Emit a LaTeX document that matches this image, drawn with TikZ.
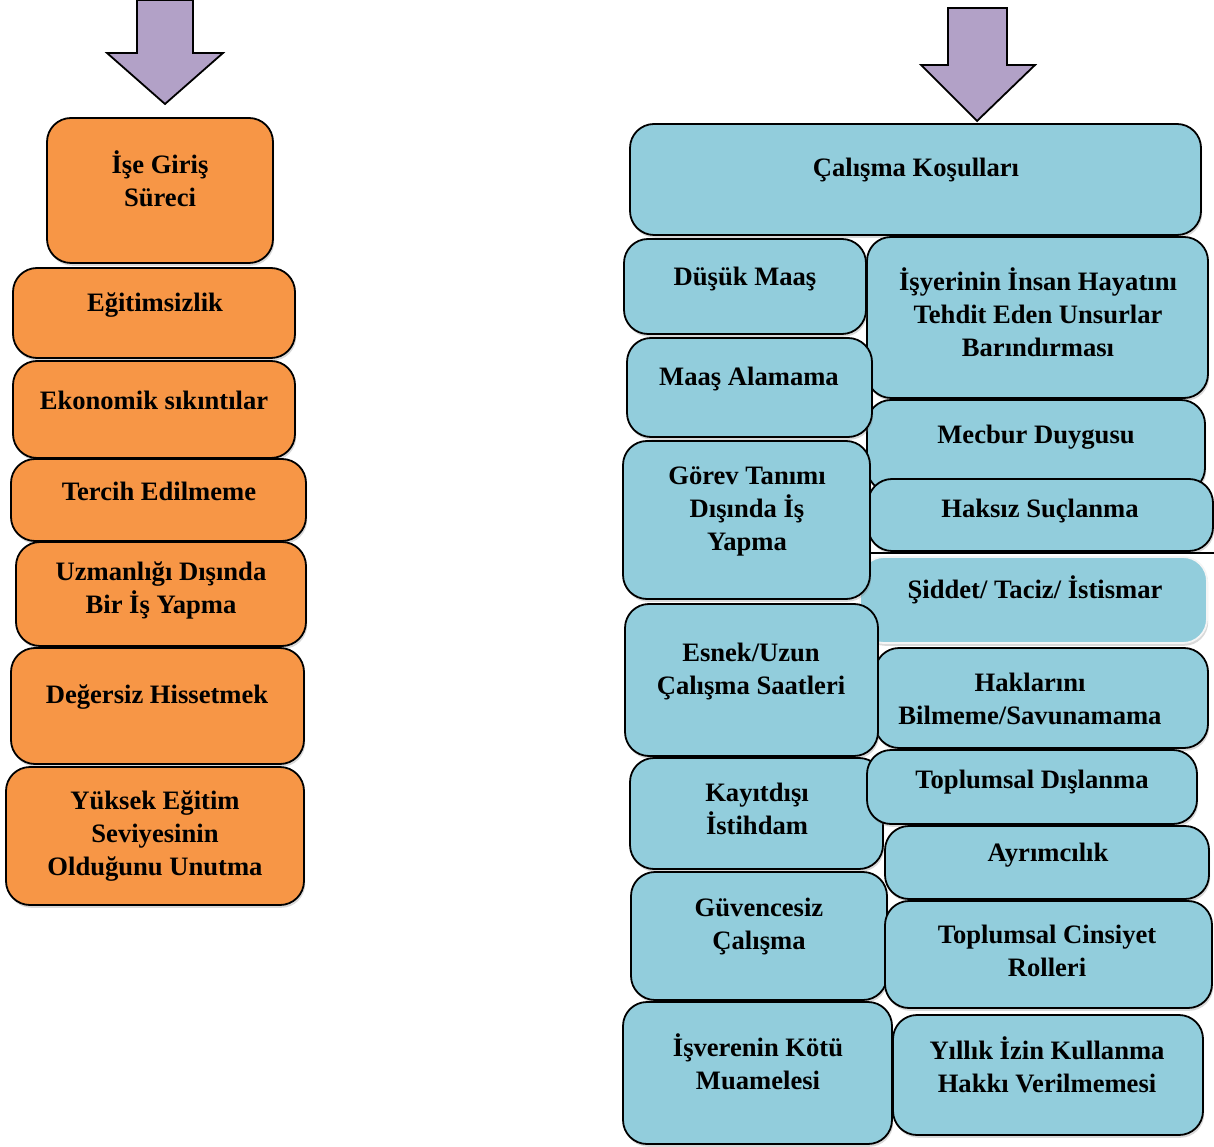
\documentclass[tikz,border=0pt]{standalone}
\usepackage{fontspec}
\setmainfont{Liberation Serif}
\usetikzlibrary{fit,shadows}
\definecolor{org}{HTML}{F79646}
\definecolor{aqua}{HTML}{92CDDC}
\definecolor{lilac}{HTML}{B2A1C7}
\tikzset{
 box/.style={draw=black, line width=0.9bp, rounded corners=12bp, inner sep=0pt,
   drop shadow={shadow xshift=0.6bp, shadow yshift=-1.4bp, opacity=0.3}},
 obox/.style={box, fill=org},
 bbox/.style={box, fill=aqua},
 pbox/.style={box, fill=aqua, draw=white!92!gray},
 txt/.style={font=\bfseries\fontsize{13.3bp}{16.5bp}\selectfont, align=center, inner sep=0pt},
 bigarrow/.style={fill=lilac, draw=black, line width=0.9bp, line join=miter}
}
\newcommand\bx[6]{\node[#1, fit={(#3,#4)(#5,#6)}] (#2) {};}
\begin{document}
\begin{tikzpicture}[x=0.5bp,y=-0.5bp]
\useasboundingbox (0,0) rectangle (1214,1147);
% arrows
\draw[bigarrow] (137,0) -- (137,53) -- (107,53) -- (165,104) -- (223,53) -- (193,53) -- (193,0) -- cycle;
\draw[bigarrow] (948,8) -- (948,65) -- (921,65) -- (977,121) -- (1035,65) -- (1007,65) -- (1007,8) -- cycle;
% left column
\bx{obox}{b1}{47}{118}{273}{263}
\bx{obox}{b2}{13}{268}{295}{358}
\bx{obox}{b3}{13}{361}{295}{458}
\bx{obox}{b4}{11}{459}{306}{541}
\bx{obox}{b5}{16}{542}{306}{646}
\bx{obox}{b6}{11}{648}{304}{764}
\bx{obox}{b7}{6}{767}{304}{905}
% right column
\bx{bbox}{c0}{630}{124}{1201}{235}
\bx{bbox}{r1}{867}{237}{1208}{398}
\bx{bbox}{r2}{867}{400}{1205}{492}
\bx{bbox}{r3}{868}{479}{1213}{551}
\draw[line width=1.2bp] (870,553) -- (1214,553);
\bx{pbox}{r4}{860}{557}{1207}{643}
\bx{bbox}{r5}{875}{648}{1208}{748}
\bx{bbox}{l1}{624}{239}{866}{334}
\bx{bbox}{l2}{627}{338}{872}{437}
\bx{bbox}{l3}{623}{441}{870}{599}
\bx{bbox}{l4}{625}{604}{878}{756}
\bx{bbox}{l5}{630}{758}{883}{869}
\bx{bbox}{l6}{631}{872}{887}{1000}
\bx{bbox}{l7}{623}{1002}{892}{1144}
\bx{bbox}{r6}{867}{750}{1197}{824}
\bx{bbox}{r7}{885}{826}{1209}{899}
\bx{bbox}{r8}{885}{901}{1212}{1008}
\bx{bbox}{r9}{893}{1015}{1203}{1135}
% texts
\node[txt] (tb1) at (160,179) {İşe Giriş\\Süreci};
\node[txt] (tb2) at (155,305) {Eğitimsizlik};
\node[txt] (tb3) at (154,400) {Ekonomik sıkıntılar};
\node[txt] (tb4) at (159,491) {Tercih Edilmeme};
\node[txt] (tb5) at (161,590) {Uzmanlığı Dışında\\Bir İş Yapma};
\node[txt] (tb6) at (157,697) {Değersiz Hissetmek};
\node[txt] (tb7) at (155,836) {Yüksek Eğitim\\Seviyesinin\\Olduğunu Unutma};
\node[txt] (tc0) at (916,170) {Çalışma Koşulları};
\node[txt] (tl1) at (745,279) {Düşük Maaş};
\node[txt] (tl2) at (749,379) {Maaş Alamama};
\node[txt] (tl3) at (747,511) {Görev Tanımı\\Dışında İş\\Yapma};
\node[txt] (tl4) at (751,671.5) {Esnek/Uzun\\Çalışma Saatleri};
\node[txt] (tl5) at (757,808.5) {Kayıtdışı\\İstihdam};
\node[txt] (tl6) at (759,927) {Güvencesiz\\Çalışma};
\node[txt] (tl7) at (758,1062) {İşverenin Kötü\\Muamelesi};
\node[txt] (tr1) at (1038,312) {İşyerinin İnsan Hayatını\\Tehdit Eden Unsurlar\\Barındırması};
\node[txt] (tr2) at (1036,437) {Mecbur Duygusu};
\node[txt] (tr3) at (1040,511) {Haksız Suçlanma};
\node[txt] (tr4) at (1035,590) {Şiddet/ Taciz/ İstismar};
\node[txt] (tr5) at (1030,699) {Haklarını\\Bilmeme/Savunamama};
\node[txt] (tr6) at (1032,782) {Toplumsal Dışlanma};
\node[txt] (tr7) at (1048,855) {Ayrımcılık};
\node[txt] (tr8) at (1047,951) {Toplumsal Cinsiyet\\Rolleri};
\node[txt] (tr9) at (1047,1065) {Yıllık İzin Kullanma\\Hakkı Verilmemesi};
\end{tikzpicture}
\end{document}
